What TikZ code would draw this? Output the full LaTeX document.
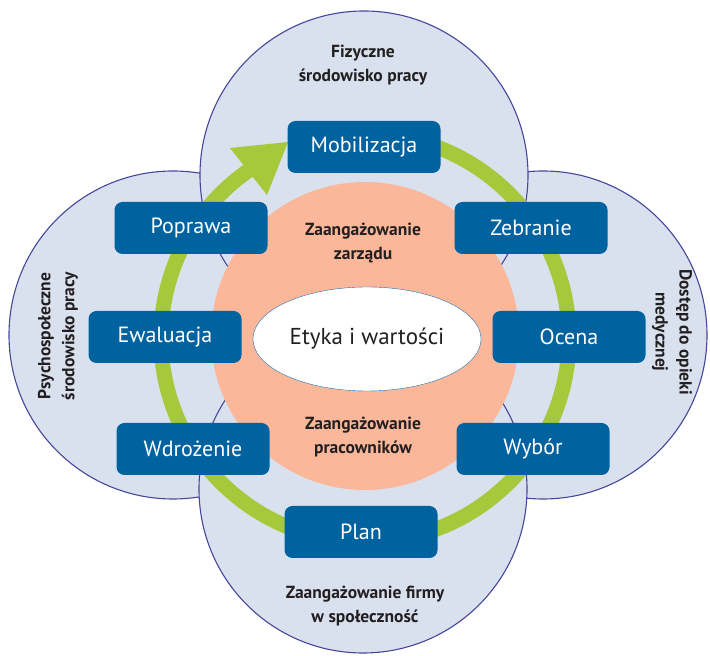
\documentclass[tikz,border=0pt]{standalone}
\usepackage{fontspec}
\setmainfont{PT Sans}
\usepackage{tikz}
\usetikzlibrary{shapes.geometric}

\definecolor{zonefill}{HTML}{D9E1EF}
\definecolor{zoneline}{HTML}{46469A}
\definecolor{stageblue}{HTML}{0063A0}
\definecolor{ringgreen}{HTML}{A5C93B}
\definecolor{salmon}{HTML}{FBB79A}
\definecolor{labeltext}{HTML}{231F20}
\definecolor{ellline}{HTML}{1F6FB0}

\begin{document}
\begin{tikzpicture}[x=1pt,y=1pt,
  zone/.style={fill=zonefill,draw=zoneline,line width=1.1pt},
  stage/.style={fill=stageblue,text=white,rounded corners=8pt,minimum width=153pt,minimum height=52pt,inner sep=0pt,font=\fontsize{22}{26}\selectfont},
  lbl/.style={text=labeltext,align=center,font=\fontsize{17.5}{24}\selectfont\bfseries}]
\useasboundingbox (0,0) rectangle (710,656);
\fill[white] (0,0) rectangle (710,656);
% outer zones
\draw[zone] (173,321) circle[radius=164];
\draw[zone] (543,321) circle[radius=164];
\draw[zone] (364,481) circle[radius=164];
\draw[zone] (363,167) circle[radius=164];
% inner disc
\fill[salmon] (365,320) circle[radius=154];
% cycle ring with head
\coordinate (c) at (365,318);
\draw[ringgreen,line width=15pt] (c) ++(90:204) arc[start angle=90,end angle=-235.3,radius=204];
\coordinate (tip) at (288,514);
\fill[ringgreen] (230,508) -- (tip) -- (267,461) -- cycle;
\foreach \n/\x/\y/\t in %
{mob/364/509/Mobilizacja,zeb/531/428/Zebranie,oce/569/319/Ocena,wyb/533/207/Wybór,%
pla/361/124/Plan,wdr/193/207/Wdrożenie,ewa/165/319/Ewaluacja,pop/191/428/Poprawa} {
   \node[stage] (\n) at (\x,\y) {\t};
}
\node[ellipse,draw=ellline,fill=white,minimum width=178pt,minimum height=104pt,text=labeltext,font=\fontsize{23}{27}\selectfont] (etyka) at (367,317) {Etyka i wartości};
\node[lbl] (fiz) at (363,591) {Fizyczne\\środowisko pracy};
\node[lbl,rotate=90] (psy) at (58,320) {Psychospołeczne\\środowisko pracy};
\node[lbl,rotate=-90] (dos) at (672,324) {Dostęp do opieki\\medycznej};
\node[lbl] (firm) at (365,50) {Zaangażowanie firmy\\w społeczność};
\node[lbl] (zarz) at (363,413) {Zaangażowanie\\zarządu};
\node[lbl] (prac) at (363,219) {Zaangażowanie\\pracowników};
\end{tikzpicture}
\end{document}
